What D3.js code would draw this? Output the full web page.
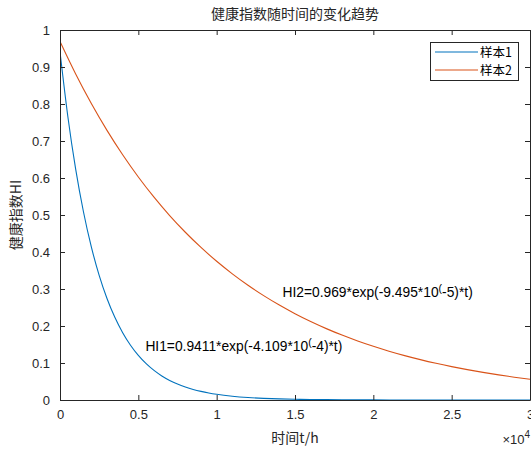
<!DOCTYPE html>
<html>
<head>
<meta charset="utf-8">
<script src="https://cdn.jsdelivr.net/npm/d3@7"></script>
<style>
  html, body { margin: 0; padding: 0; background: #fff; }
  svg { display: block; font-family: Arial, "Liberation Sans", "Noto Sans CJK SC", sans-serif; }
</style>
</head>
<body>
<svg id="chart" width="531" height="450"></svg>
<script>
// Sample 1: health index over time (hours)
const hours1 = [0, 500, 1000, 1500, 2000, 2500, 3000, 3500, 4000, 4500, 5000, 5500, 6000, 6500, 7000,
  7500, 8000, 8500, 9000, 9500, 10000, 11000, 12000, 13000, 14000, 15000, 16000, 17000, 18000,
  19000, 20000, 22000, 24000, 26000, 28000, 30000];
const hi1 = [0.9411, 0.7663, 0.6240, 0.5081, 0.4137, 0.3369, 0.2743, 0.2234, 0.1819, 0.1481, 0.1206,
  0.0982, 0.0800, 0.0651, 0.0530, 0.0432, 0.0352, 0.0286, 0.0233, 0.0190, 0.0155, 0.0103, 0.0068,
  0.0045, 0.0030, 0.0020, 0.0013, 0.0009, 0.0006, 0.0004, 0.0003, 0.0001, 0.0001, 0.0000, 0.0000, 0.0000];

// Sample 2: health index over time (hours)
const hours2 = [0, 1000, 2000, 3000, 4000, 5000, 6000, 7000, 8000, 9000, 10000, 11000, 12000, 13000,
  14000, 15000, 16000, 17000, 18000, 19000, 20000, 21000, 22000, 23000, 24000, 25000, 26000, 27000,
  28000, 29000, 30000];
const hi2 = [0.9690, 0.8812, 0.8014, 0.7288, 0.6628, 0.6028, 0.5482, 0.4985, 0.4534, 0.4123, 0.3749,
  0.3410, 0.3101, 0.2820, 0.2565, 0.2332, 0.2121, 0.1929, 0.1754, 0.1595, 0.1451, 0.1319, 0.1200,
  0.1091, 0.0992, 0.0903, 0.0821, 0.0746, 0.0679, 0.0617, 0.0561];

const seriesNames = ["样本1", "样本2"];
const seriesColors = ["#0072BD", "#D95319"];

const xTicks = [0, 5000, 10000, 15000, 20000, 25000, 30000];
const xTickLabels = ["0", "0.5", "1", "1.5", "2", "2.5", "3"];
const yTicks = [0, 0.1, 0.2, 0.3, 0.4, 0.5, 0.6, 0.7, 0.8, 0.9, 1];
const yTickLabels = ["0", "0.1", "0.2", "0.3", "0.4", "0.5", "0.6", "0.7", "0.8", "0.9", "1"];

const titleText = "健康指数随时间的变化趋势";
const xLabelText = "时间t/h";
const yLabelText = "健康指数HI";

const svg = d3.select("#chart");
const plot = { left: 60, right: 530, top: 30, bottom: 400 };
const textColor = "#262626";
const axisColor = "#262626";

const x = d3.scaleLinear().domain([0, 30000]).range([plot.left, plot.right]);
const y = d3.scaleLinear().domain([0, 1]).range([plot.bottom, plot.top]);

// Axes (box with ticks on all four sides, ticks pointing inward)
const tickLen = 5;
const xAxisBottom = d3.axisBottom(x).tickValues(xTicks).tickSizeInner(-tickLen).tickSizeOuter(0)
  .tickFormat((d, i) => xTickLabels[i]).tickPadding(10);
const xAxisTop = d3.axisTop(x).tickValues(xTicks).tickSizeInner(-tickLen).tickSizeOuter(0).tickFormat("");
const yAxisLeft = d3.axisLeft(y).tickValues(yTicks).tickSizeInner(-tickLen).tickSizeOuter(0)
  .tickFormat((d, i) => yTickLabels[i]).tickPadding(10);
const yAxisRight = d3.axisRight(y).tickValues(yTicks).tickSizeInner(-tickLen).tickSizeOuter(0).tickFormat("");

function styleAxis(g) {
  g.select(".domain").attr("stroke", axisColor).attr("stroke-width", 1).attr("fill", "none");
  g.selectAll(".tick line").attr("stroke", axisColor).attr("stroke-width", 1);
  g.selectAll(".tick text").attr("fill", textColor).style("font-size", "13px")
    .style("font-family", "Arial, 'Liberation Sans', sans-serif");
}

// Curves
const line = d3.line().x(d => x(d[0])).y(d => y(d[1])).curve(d3.curveMonotoneX);
const seriesData = [d3.zip(hours1, hi1), d3.zip(hours2, hi2)];
svg.append("clipPath").attr("id", "plotclip")
  .append("rect").attr("x", plot.left).attr("y", plot.top)
  .attr("width", plot.right - plot.left).attr("height", plot.bottom - plot.top);
svg.append("g").attr("clip-path", "url(#plotclip)")
  .selectAll("path.series").data(seriesData).join("path")
  .attr("class", "series")
  .attr("d", line)
  .attr("fill", "none")
  .attr("stroke", (d, i) => seriesColors[i])
  .attr("stroke-width", 1.1);

svg.append("g").attr("transform", `translate(0,${plot.bottom})`).call(xAxisBottom).call(styleAxis);
svg.append("g").attr("transform", `translate(0,${plot.top})`).call(xAxisTop).call(styleAxis);
svg.append("g").attr("transform", `translate(${plot.left},0)`).call(yAxisLeft).call(styleAxis);
svg.append("g").attr("transform", `translate(${plot.right},0)`).call(yAxisRight).call(styleAxis);

// Title
svg.append("text").attr("x", (plot.left + plot.right) / 2).attr("y", 19)
  .attr("text-anchor", "middle").attr("fill", textColor)
  .style("font-size", "14px").style("font-family", "'Noto Sans CJK SC', sans-serif")
  .text(titleText);

// Axis labels
svg.append("text").attr("x", (plot.left + plot.right) / 2).attr("y", 443)
  .attr("text-anchor", "middle").attr("fill", textColor)
  .style("font-size", "14px").style("font-family", "'Noto Sans CJK SC', sans-serif")
  .text(xLabelText);
svg.append("text").attr("transform", `translate(21,${(plot.top + plot.bottom) / 2}) rotate(-90)`)
  .attr("text-anchor", "middle").attr("fill", textColor)
  .style("font-size", "14px").style("font-family", "'Noto Sans CJK SC', sans-serif")
  .text(yLabelText);

// Exponent marker for the x axis
const expo = svg.append("text").attr("x", 530).attr("y", 444).attr("text-anchor", "end")
  .attr("fill", textColor).style("font-size", "13px");
expo.append("tspan").text("×10");
expo.append("tspan").attr("dy", -6).style("font-size", "10px").text("4");

// Fit equations, anchored in data coordinates
function equation(t0, v0, head, exponentRest) {
  const t = svg.append("text").attr("x", x(t0)).attr("y", y(v0)).attr("fill", "#000")
    .style("font-size", "13.8px").style("font-family", "Arial, 'Liberation Sans', sans-serif");
  t.append("tspan").text(head);
  t.append("tspan").attr("dy", -5).style("font-size", "10.5px").text("(");
  t.append("tspan").attr("dy", 5).text(exponentRest);
}
equation(14200, 0.278, "HI2=0.969*exp(-9.495*10", "-5)*t)");
equation(5450, 0.132, "HI1=0.9411*exp(-4.109*10", "-4)*t)");

// Legend
const lg = svg.append("g");
lg.append("rect").attr("x", 430.5).attr("y", 42.5).attr("width", 88).attr("height", 38)
  .attr("fill", "#fff").attr("stroke", axisColor).attr("stroke-width", 1);
seriesNames.forEach((name, i) => {
  const yy = 52 + i * 18;
  lg.append("line").attr("x1", 435).attr("x2", 478).attr("y1", yy).attr("y2", yy)
    .attr("stroke", seriesColors[i]).attr("stroke-width", 1.1);
  lg.append("text").attr("x", 480).attr("y", yy + 4.5).attr("fill", "#000")
    .style("font-size", "12.5px").style("font-family", "'Noto Sans CJK SC', sans-serif")
    .text(name);
});
</script>
</body>
</html>
